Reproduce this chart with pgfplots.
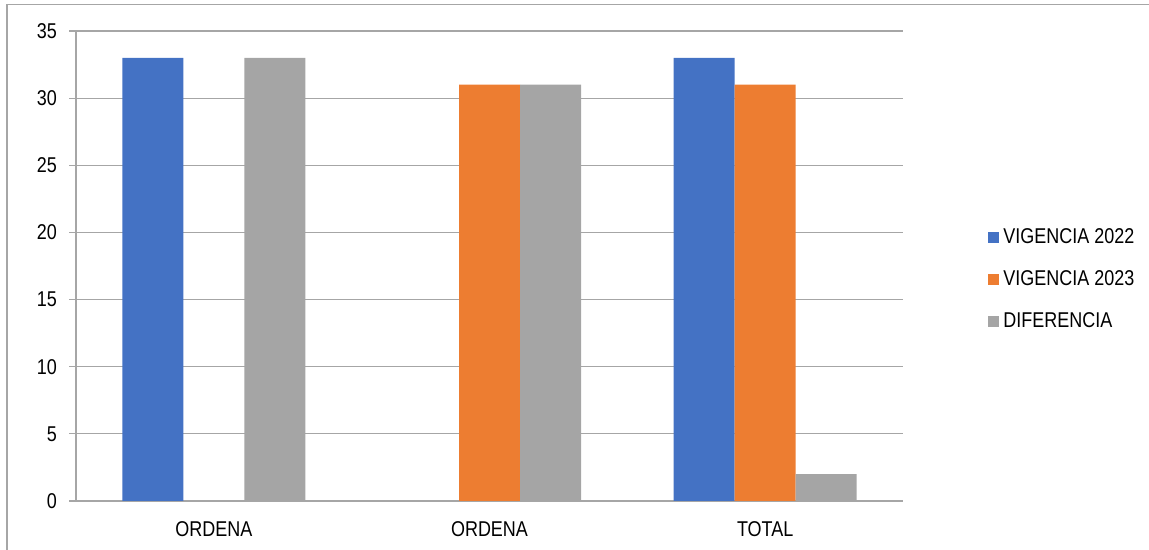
\documentclass[border=0pt]{standalone}
\usepackage{pgfplots}
\pgfplotsset{compat=1.18}
\usepackage{fontspec}
\setmainfont{Liberation Sans}[FakeStretch=0.84]
\definecolor{cblue}{HTML}{4472C4}
\definecolor{corange}{HTML}{ED7D31}
\definecolor{cgray}{HTML}{A5A5A5}
\definecolor{gridc}{HTML}{A6A6A6}
\begin{document}
\begin{tikzpicture}
\useasboundingbox (0,0) rectangle (574.5pt,275pt);
\draw[gridc, line width=0.7pt] (3.5pt,0pt) -- (3.5pt,272.8pt) -- (574.5pt,272.8pt);
\begin{axis}[
  at={(38pt,24.5pt)}, anchor=south west,
  scale only axis, width=413.5pt, height=235pt,
  xmin=-0.5, xmax=2.5, ymin=0, ymax=35,
  ytick={0,5,...,35},
  xtick={0,1,2},
  xticklabels={ORDENA,ORDENA,TOTAL},
  major x tick style={draw=none},
  extra x ticks={-0.5,0.5,1.5,2.5},
  extra x tick labels={},
  extra x tick style={grid=none, major tick length=3.5pt, tick style={draw=gridc, line width=0.6pt}},
  tick align=outside, xtick pos=bottom, ytick pos=left,
  major tick length=3.5pt,
  tick style={draw=gridc, line width=0.6pt},
  ymajorgrids, grid style={draw=gridc, line width=0.6pt},
  axis x line*=bottom, axis y line*=left,
  axis line style={draw=gridc, line width=0.6pt, -},
  /pgf/number format/assume math mode=true,
  ticklabel style={font=\fontsize{10.7}{12}\selectfont, text=black},
  yticklabel style={xshift=-2.5pt},
  xticklabel style={yshift=-3pt},
  ybar, bar width=30.5pt,
  legend style={at={(axis description cs:1,0.472)}, anchor=west, xshift=42.5pt,
    draw=none, fill=none, inner sep=0pt, row sep=8pt,
    font=\fontsize{10.7}{12}\selectfont, cells={anchor=west},
    /tikz/every even column/.append style={column sep=0pt}},
  legend image code/.code={\fill[#1] (0pt,-2.75pt) rectangle (5.5pt,2.75pt);},
]
\addplot[fill=cblue, draw=none, bar shift=-30.5pt] coordinates {(0,33) (2,33)};
\addplot[fill=corange, draw=none, bar shift=0pt] coordinates {(1,31) (2,31)};
\addplot[fill=cgray, draw=none, bar shift=30.5pt] coordinates {(0,33) (1,31) (2,2)};
\legend{VIGENCIA 2022, VIGENCIA 2023, DIFERENCIA}
\end{axis}
\end{tikzpicture}
\end{document}
